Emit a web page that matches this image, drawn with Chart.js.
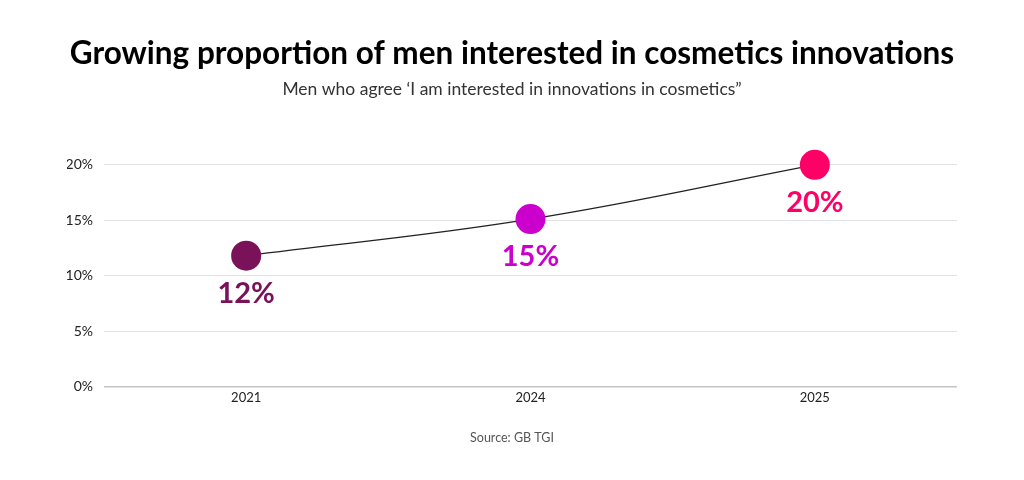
<!DOCTYPE html>
<html>
<head>
<meta charset="utf-8">
<script src="https://cdn.jsdelivr.net/npm/chart.js@4"></script>
<style>
  html, body { margin: 0; padding: 0; background: #fff; }
  #wrap { width: 1024px; height: 480px; }
</style>
</head>
<body>
<div id="wrap"><canvas id="myChart" width="1024" height="480"></canvas></div>
<script>
  'use strict'

  // datos
  var years = ['2021', '2024', '2025']
  var share = [11.8, 15.1, 20]
  var shareLabels = ['12%', '15%', '20%']
  var pointColors = ['#7a1259', '#cc00cc', '#ff0066']
  var yTicks = [0, 5, 10, 15, 20]
  var sourceText = 'Source: GB TGI'

  // etiquetas de valor debajo de cada punto
  var valueLabels = {
    id: 'valueLabels',
    afterDatasetsDraw: function (chart) {
      var ctx = chart.ctx
      var meta = chart.getDatasetMeta(0)
      ctx.save()
      ctx.font = 'bold 29px Lato'
      ctx.textAlign = 'center'
      ctx.textBaseline = 'middle'
      meta.data.forEach(function (pt, i) {
        ctx.fillStyle = pointColors[i]
        ctx.fillText(shareLabels[i], pt.x, pt.y + 38)
      })
      ctx.restore()
    }
  }

  // fuente centrada en el lienzo
  var sourceNote = {
    id: 'sourceNote',
    afterDraw: function (chart) {
      var ctx = chart.ctx
      ctx.save()
      ctx.font = '12.5px Lato'
      ctx.fillStyle = '#555'
      ctx.textAlign = 'center'
      ctx.textBaseline = 'middle'
      ctx.fillText(sourceText, chart.width / 2, 438)
      ctx.restore()
    }
  }

  var ctx = document.getElementById('myChart')
  new Chart(ctx, {
    type: 'line',
    data: {
      labels: years,
      datasets: [{
        data: share,
        tension: 0.4,
        borderColor: '#222',
        borderWidth: 1.3,
        pointRadius: 15,
        pointHoverRadius: 15,
        pointBorderWidth: 0,
        pointBackgroundColor: pointColors,
        clip: false
      }]
    },
    options: {
      responsive: false,
      animation: false,
      layout: { padding: { left: 67, right: 67, bottom: 70 } },
      plugins: {
        legend: { display: false },
        tooltip: { enabled: false },
        title: {
          display: true,
          text: 'Growing proportion of men interested in cosmetics innovations',
          color: '#000',
          font: { family: 'Lato', size: 31.5, weight: 'bold', lineHeight: 1.2 },
          padding: { top: 35, bottom: 6 }
        },
        subtitle: {
          display: true,
          text: 'Men who agree \u2018I am interested in innovations in cosmetics\u201d',
          color: '#333',
          font: { family: 'Lato', size: 17.5, weight: 'normal', lineHeight: 1.2 },
          padding: { top: 0, bottom: 65 }
        }
      },
      scales: {
        x: {
          offset: true,
          grid: { display: false, drawTicks: false },
          border: { display: false },
          ticks: { color: '#222', padding: 4, font: { family: 'Lato', size: 13 } }
        },
        y: {
          min: 0,
          max: 20,
          afterBuildTicks: function (axis) {
            axis.ticks = yTicks.map(function (v) { return { value: v } })
          },
          afterFit: function (axis) { axis.width = 37 },
          border: { display: false },
          grid: {
            drawTicks: false,
            color: function (c) { return c.tick && c.tick.value === 0 ? '#c4c4c4' : '#e2e2e2' },
            lineWidth: function (c) { return c.tick && c.tick.value === 0 ? 1.5 : 1 }
          },
          ticks: {
            color: '#222',
            padding: 11,
            font: { family: 'Lato', size: 14 },
            callback: function (v) { return v + '%' }
          }
        }
      }
    },
    plugins: [valueLabels, sourceNote]
  })
</script>
</body>
</html>
